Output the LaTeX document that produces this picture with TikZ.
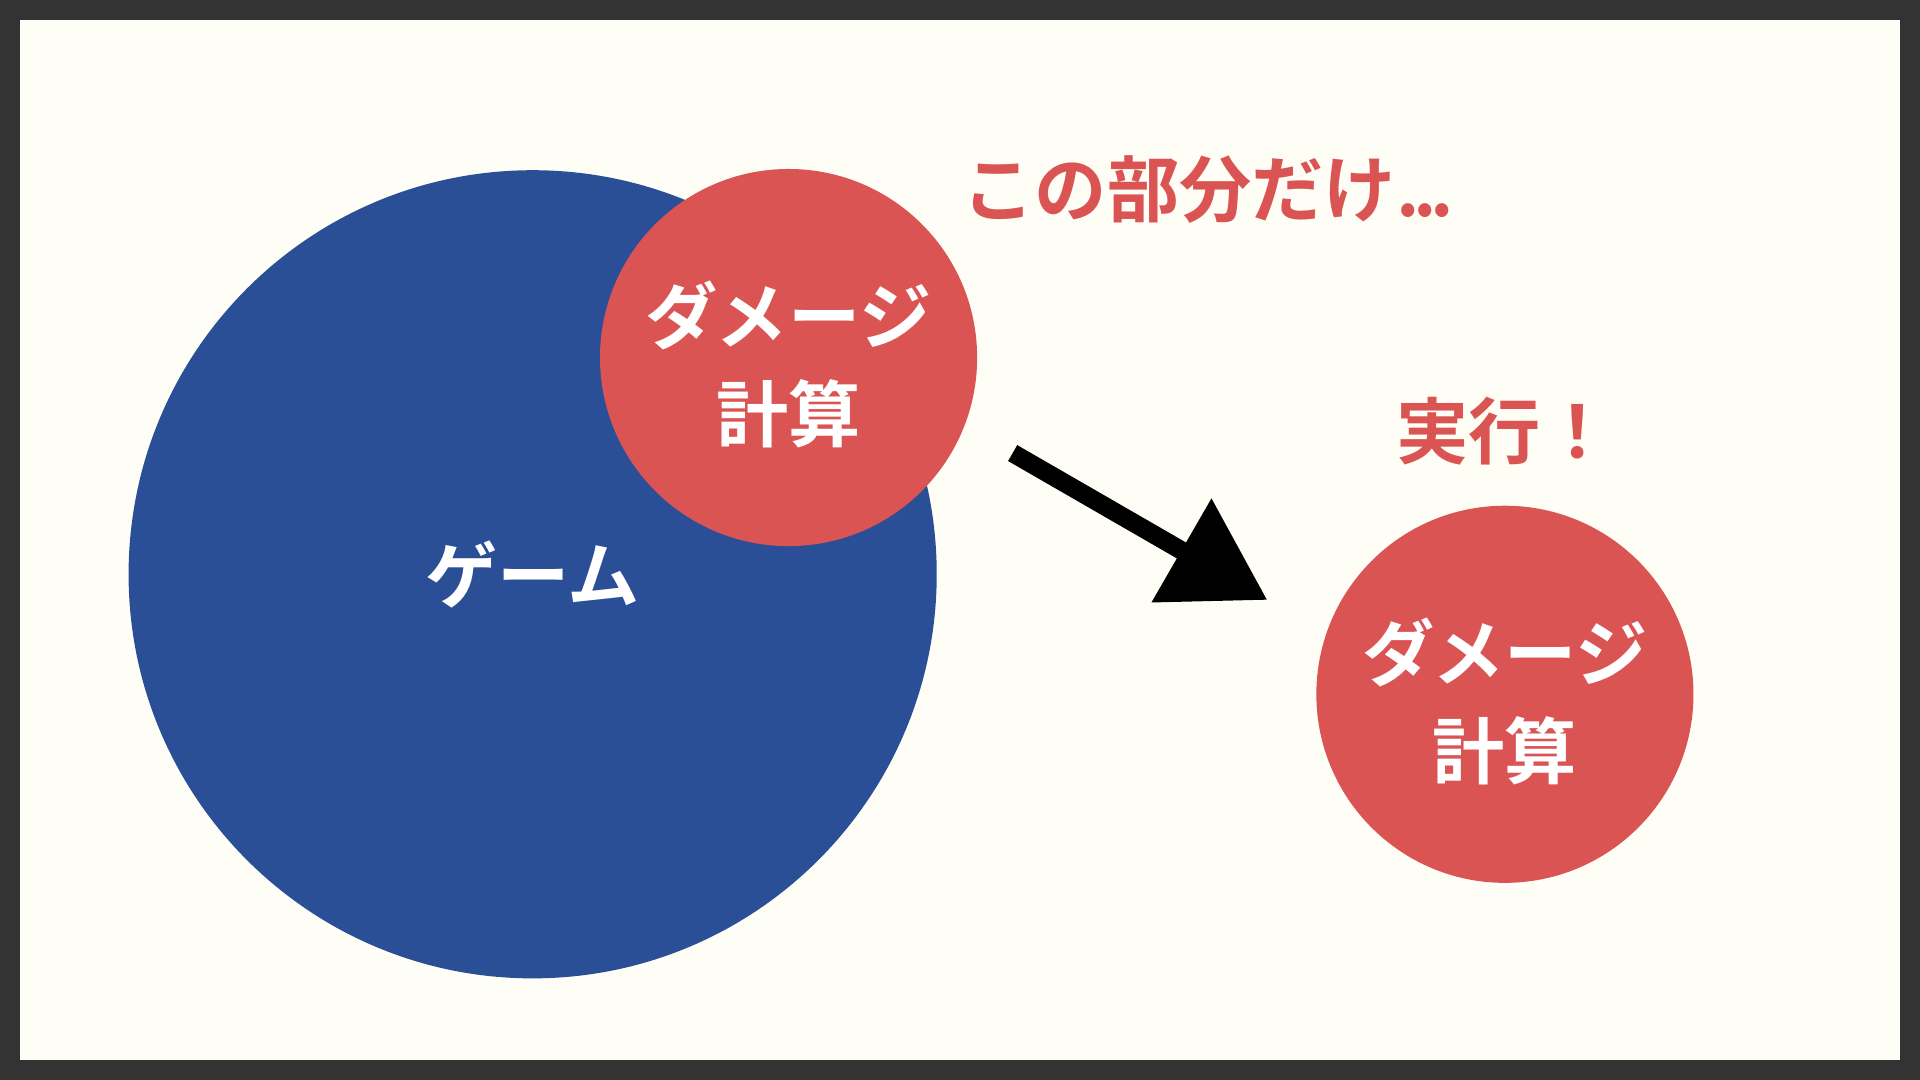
\documentclass[tikz,border=0pt]{standalone}
\usepackage{fontspec}
\usetikzlibrary{arrows.meta}
\newfontfamily\jpfont{Noto Sans CJK JP Bold}

\definecolor{frame}{HTML}{333333}
\definecolor{paper}{HTML}{FFFEF6}
\definecolor{gameblue}{HTML}{2A4F97}
\definecolor{damagered}{HTML}{DB5454}

\tikzset{
  bubble/.style={circle, inner sep=0pt, outer sep=0pt, text=white, align=center,
    font=\jpfont\fontsize{59}{80}\selectfont},
  remark/.style={inner sep=0pt, text=damagered, font=\jpfont\fontsize{59}{80}\selectfont}
}

\begin{document}
\begin{tikzpicture}[x=1pt, y=-1pt]
		% frame and paper
		\fill [frame] (0,0) rectangle (1568,882);
		\fill [paper] (16,16) rectangle (1552,866);
		
		% the whole game, with the part that is cut out
		\node [bubble, fill=gameblue, minimum size=660pt] (game) at (435,469) {ゲーム};
		\node [bubble, fill=damagered, minimum size=308pt] (part) at (644,292) {};
		\node [bubble] (partname) at ([yshift=-6pt]part.center) {ダメージ\\計算};
		
		\node [remark, anchor=west] (only) at (786,155) {この部分だけ.\kern-5pt.\kern-5pt.};
		\node [remark] (run) at (1229,352) {実行！};
		
		% the part on its own
		\node [bubble, fill=damagered, minimum size=308pt] (alone) at (1229,567) {};
		\node [bubble] (alonename) at ([yshift=-6pt]alone.center) {ダメージ\\計算};
		
		\coordinate (from) at (827,370);
		\coordinate (to) at (1035,490);
		\draw [line width=15pt, -{Triangle[length=81pt, width=94pt]}] (from) -- (to);
		
\end{tikzpicture}
\end{document}
